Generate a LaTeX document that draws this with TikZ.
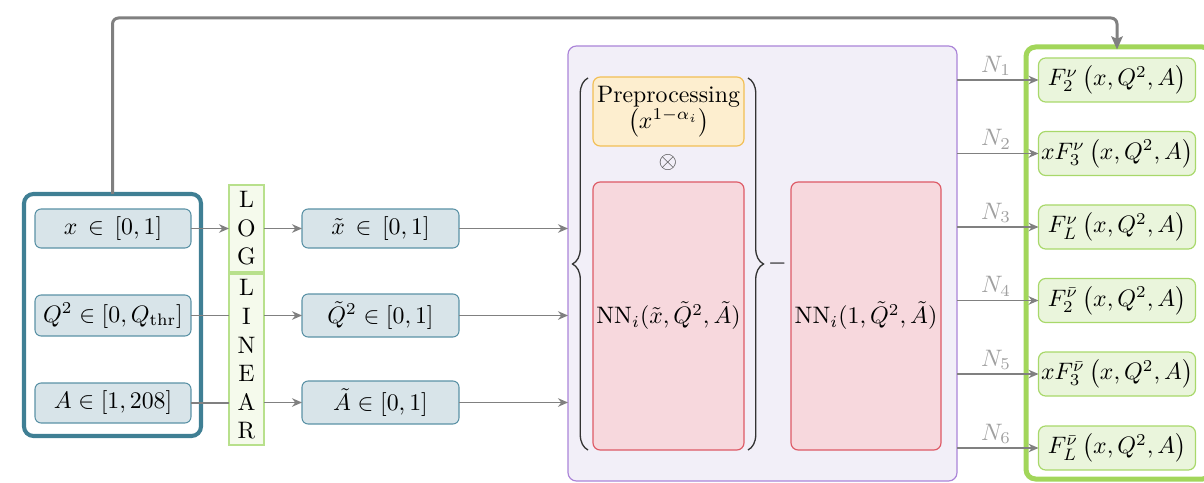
\documentclass[tikz,border=0pt]{standalone}
\usetikzlibrary{arrows.meta,decorations.pathreplacing,calc}
\newcommand\pxu{0.42pt}
\definecolor{inframe}{HTML}{3F7F94}
\definecolor{infill}{HTML}{D8E4E9}
\definecolor{inborder}{HTML}{5B92A6}
\definecolor{conngray}{HTML}{808080}
\definecolor{trfill}{HTML}{F5FAEC}
\definecolor{trborder}{HTML}{B8E08C}
\definecolor{blockfill}{HTML}{F2EFF8}
\definecolor{blockborder}{HTML}{AB84D8}
\definecolor{prefill}{HTML}{FDEECF}
\definecolor{preborder}{HTML}{F2BF55}
\definecolor{nnfill}{HTML}{F7D8DD}
\definecolor{nnborder}{HTML}{DE5A66}
\definecolor{outfill}{HTML}{EAF5DC}
\definecolor{outborder}{HTML}{A8D86A}
\definecolor{outframe}{HTML}{A2D65A}
\definecolor{nlabel}{HTML}{A0A0A0}
\begin{document}
\begin{tikzpicture}[x=\pxu,y=-\pxu,
  sz/.style 2 args={minimum width={#1*\pxu}, minimum height={#2*\pxu}, inner sep=0pt, outer sep=0pt},
  varbox/.style={draw=inborder, fill=infill, rounded corners=2.6pt, line width=0.45pt},
  trbox/.style={draw=trborder, fill=trfill, line width=0.5pt, align=center},
  nnbox/.style={draw=nnborder, fill=nnfill, rounded corners=3pt, line width=0.5pt},
  outbox/.style={draw=outborder, fill=outfill, rounded corners=3pt, line width=0.5pt},
  conn/.style={draw=conngray, line width=0.6pt},
  arr/.style={conn, -{Stealth[length=4.2pt,width=3.6pt]}},
  nlab/.style={text=nlabel, above, pos=0.48, inner sep=1.5pt},
  curly/.style={decorate, decoration={brace, amplitude=6.5pt}, draw=black!80, line width=0.55pt}
]
\useasboundingbox (0,0) rectangle (1204,483);

% input variables
\node[sz={177}{242}, draw=inframe, line width=1.7pt, rounded corners=4pt] (frame) at (112.5,315) {};
\node[varbox, sz={156}{39}] (inx) at (113,228.5) {$x\,\in\,[0,1]$};
\node[varbox, sz={156}{41}] (inq) at (113,315.5) {$Q^2\in[0,Q_{\mathrm{thr}}]$};
\node[varbox, sz={156}{40}] (ina) at (113,403) {$A\in[1,208]$};

% rescaling
\node[trbox, sz={35}{87}] (log) at (246.5,228.5) {L\\O\\G};
\node[trbox, sz={35}{171}] (lin) at (246.5,359.5) {L\\I\\N\\E\\A\\R};

% rescaled variables
\node[varbox, sz={157}{39}] (tx) at (380.5,228.5) {$\tilde{x}\,\in\,[0,1]$};
\node[varbox, sz={157}{43}] (tq) at (380.5,315.5) {$\tilde{Q}^2\in[0,1]$};
\node[varbox, sz={157}{43}] (ta) at (380.5,402.5) {$\tilde{A}\in[0,1]$};

% network block
\node[sz={389}{435}, draw=blockborder, fill=blockfill, rounded corners=3.5pt, line width=0.5pt] (block) at (762.5,263.5) {};
\node[sz={151}{69}, draw=preborder, fill=prefill, rounded corners=3pt, line width=0.5pt, align=center] (pre) at (668.5,111.5)
  {Preprocessing\\[-1pt]$\left(x^{1-\alpha_i}\right)$};
\node[text=black!75] (prod) at (668,163) {$\otimes$};
\node[nnbox, sz={151}{268}] (nna) at (668.5,316) {$\mathrm{NN}_i(\tilde{x},\tilde{Q}^2,\tilde{A})$};
\node[nnbox, sz={150}{268}] (nnb) at (866,316) {$\mathrm{NN}_i(1,\tilde{Q}^2,\tilde{A})$};
\draw[curly] (588,450) -- (588,78);
\draw[curly] (748,78) -- (748,450);
\node (minus) at (777.5,264) {$-$};

% structure functions
\node[sz={186}{432}, draw=outframe, line width=2.1pt, rounded corners=4pt] (outfr) at (1119,263) {};
\node[outbox, sz={157}{44}] (o1) at (1117,80) {$F_2^{\nu}\left(x,Q^2,A\right)$};
\node[outbox, sz={157}{44}] (o2) at (1117,153.5) {$xF_3^{\nu}\left(x,Q^2,A\right)$};
\node[outbox, sz={157}{44}] (o3) at (1117,227) {$F_L^{\nu}\left(x,Q^2,A\right)$};
\node[outbox, sz={157}{44}] (o4) at (1117,300.5) {$F_2^{\bar{\nu}}\left(x,Q^2,A\right)$};
\node[outbox, sz={157}{44}] (o5) at (1117,374) {$xF_3^{\bar{\nu}}\left(x,Q^2,A\right)$};
\node[outbox, sz={157}{44}] (o6) at (1117,448) {$F_L^{\bar{\nu}}\left(x,Q^2,A\right)$};

% connectors
\draw[arr] (inx.east) -- (log.west |- inx.east);
\draw[conn] (inq.east) -- (lin.west |- inq.east);
\draw[conn] (ina.east) -- (lin.west |- ina.east);
\draw[arr] (log.east |- tx.west) -- (tx.west);
\draw[arr] (lin.east |- tq.west) -- (tq.west);
\draw[arr] (lin.east |- ta.west) -- (ta.west);
\draw[arr] (tx.east) -- (block.west |- tx.east);
\draw[arr] (tq.east) -- (block.west |- tq.east);
\draw[arr] (ta.east) -- (block.west |- ta.east);
\foreach \i in {1,...,6}{
  \draw[arr] (block.east |- o\i.west) -- node[nlab] {$N_{\i}$} (o\i.west);
}
\coordinate (topline) at (0,18);
\draw[draw=conngray, line width=1.26pt, rounded corners=2.5pt, -{Stealth[length=5.5pt,width=4.8pt,inset=1pt]}]
  (frame.north) -- (frame.north |- topline) -| ($(o1.north |- outfr.north)+(0,-1.05pt)$);
\end{tikzpicture}
\end{document}
